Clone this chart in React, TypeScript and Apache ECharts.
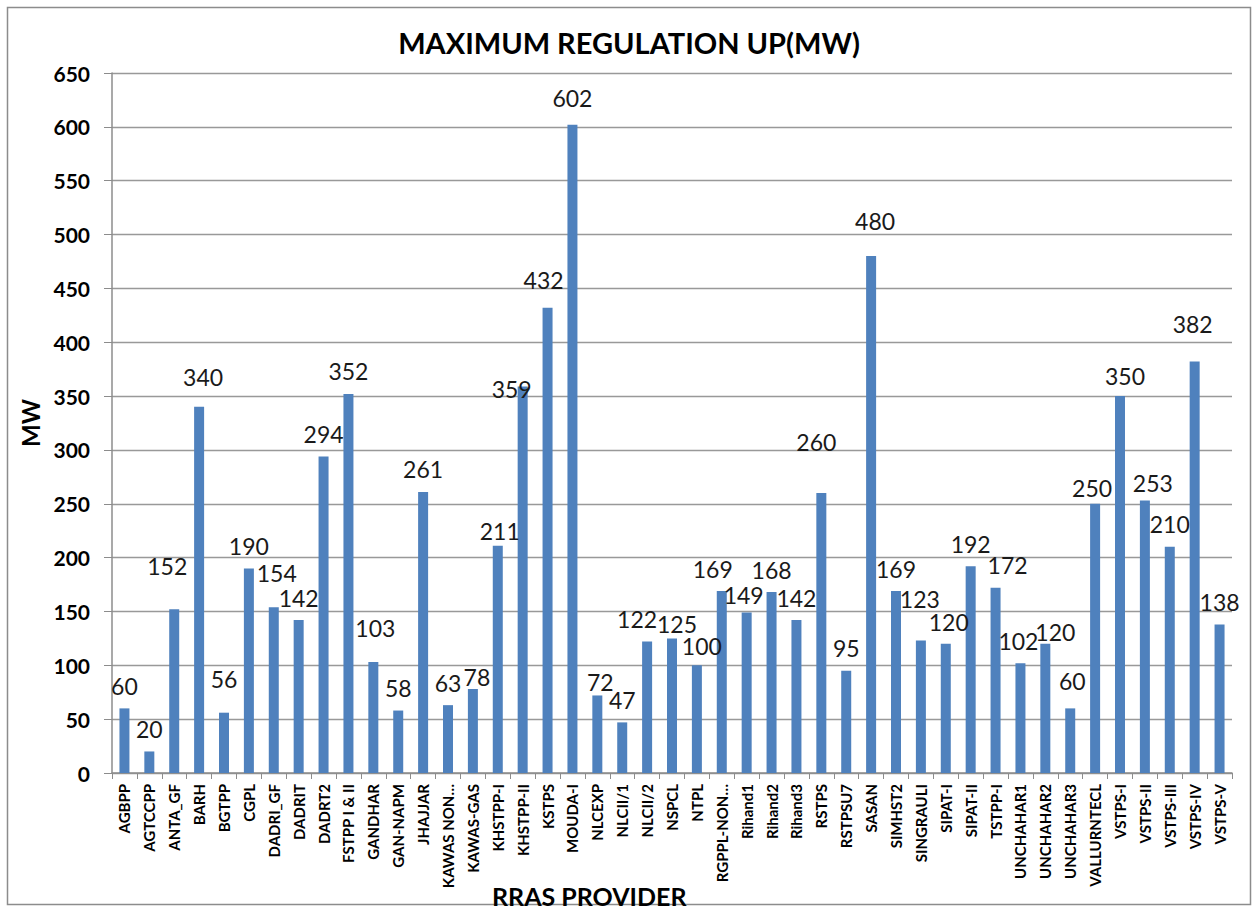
import React, { useEffect, useRef } from "react";
import * as echarts from "echarts";

const categories = [
  "AGBPP", "AGTCCPP", "ANTA_GF", "BARH", "BGTPP", "CGPL", "DADRI_GF", "DADRIT", "DADRT2",
  "FSTPP I & II", "GANDHAR", "GAN-NAPM", "JHAJJAR", "KAWAS NON…", "KAWAS-GAS", "KHSTPP-I",
  "KHSTPP-II", "KSTPS", "MOUDA-I", "NLCEXP", "NLCII/1", "NLCII/2", "NSPCL", "NTPL",
  "RGPPL-NON…", "Rihand1", "Rihand2", "Rihand3", "RSTPS", "RSTPSU7", "SASAN", "SIMHST2",
  "SINGRAULI", "SIPAT-I", "SIPAT-II", "TSTPP-I", "UNCHAHAR1", "UNCHAHAR2", "UNCHAHAR3",
  "VALLURNTECL", "VSTPS-I", "VSTPS-II", "VSTPS-III", "VSTPS-IV", "VSTPS-V",
];

const values = [
  60, 20, 152, 340, 56, 190, 154, 142, 294, 352, 103, 58, 261, 63, 78, 211, 359, 432, 602,
  72, 47, 122, 125, 100, 169, 149, 168, 142, 260, 95, 480, 169, 123, 120, 192, 172, 102,
  120, 60, 250, 350, 253, 210, 382, 138,
];

const title = "MAXIMUM REGULATION UP(MW)";
const xName = "RRAS PROVIDER";
const yName = "MW";

// Style only: hand-placed data label nudges [dx, dy] as seen in the reference
const labelNudge: Record<string, [number, number]> = {
  "ANTA_GF": [-7, -21],
  "BARH": [4, -7],
  "BGTPP": [0, -11],
  "DADRI_GF": [3, -12],
  "GANDHAR": [2, -12],
  "KAWAS-GAS": [4, 10],
  "KHSTPP-I": [2, 8],
  "KHSTPP-II": [-11, 25],
  "KSTPS": [-4, -5],
  "MOUDA-I": [0, -4],
  "NLCEXP": [3, 9],
  "NLCII/2": [-10, 0],
  "NSPCL": [5, 8],
  "NTPL": [5, 3],
  "RGPPL-NON…": [-9, 0],
  "Rihand1": [-3, 5],
  "RSTPS": [-5, -29],
  "SASAN": [4, -13],
  "SINGRAULI": [-1, -19],
  "SIPAT-I": [3, 1],
  "TSTPP-I": [12, 0],
  "UNCHAHAR1": [-2, 0],
  "UNCHAHAR2": [10, 11],
  "UNCHAHAR3": [2, -5],
  "VALLURNTECL": [-3, 7],
  "VSTPS-I": [5, 2],
  "VSTPS-II": [8, 5],
  "VSTPS-IV": [-2, -15],
};

const FONT = "Lato, 'Open Sans', sans-serif";

export default function App() {
  const ref = useRef<HTMLDivElement>(null);

  useEffect(() => {
    if (!ref.current) return;
    const chart = echarts.init(ref.current, null, { renderer: "svg" });
    const seriesData = values.map((v, i) => {
      const nudge = labelNudge[categories[i]];
      return nudge ? { value: v, label: { offset: nudge } } : { value: v };
    });
    chart.setOption({
      animation: false,
      backgroundColor: "#ffffff",
      textStyle: { fontFamily: FONT },
      title: {
        text: title,
        left: "center",
        top: 23,
        textStyle: { fontFamily: FONT, fontSize: 29, fontWeight: "bold", color: "#000" },
      },
      graphic: [
        {
          type: "rect",
          shape: { x: 7.5, y: 7.5, width: 1243, height: 897 },
          style: { fill: "none", stroke: "#8c8c8c", lineWidth: 1.5 },
          silent: true,
        },
        {
          type: "text",
          left: 492,
          top: 883,
          silent: true,
          style: {
            text: xName,
            fill: "#000",
            font: "bold 25px Lato, 'Open Sans', sans-serif",
          },
        },
      ],
      grid: {
        left: 112,
        right: 26,
        top: 73,
        bottom: 138,
        containLabel: false,
        outerBoundsMode: "none",
      },
      xAxis: {
        type: "category",
        data: categories,
        axisLine: { lineStyle: { color: "#8c8c8c", width: 1.5 } },
        axisTick: { show: true, alignWithLabel: false, length: 6, lineStyle: { color: "#8c8c8c" } },
        axisLabel: {
          interval: 0,
          rotate: 90,
          fontSize: 15,
          fontWeight: "bold",
          color: "#000",
          fontFamily: FONT,
          margin: 11,
        },
      },
      yAxis: {
        type: "value",
        min: 0,
        max: 650,
        interval: 50,
        name: yName,
        nameLocation: "middle",
        nameGap: 67,
        nameRotate: 90,
        nameTextStyle: { fontFamily: FONT, fontSize: 24, fontWeight: "bold", color: "#000" },
        axisLine: { show: true, lineStyle: { color: "#8c8c8c", width: 1.5 } },
        axisTick: { show: true, length: 8, lineStyle: { color: "#8c8c8c" } },
        axisLabel: { fontSize: 21, fontWeight: "bold", color: "#000", fontFamily: FONT, margin: 22 },
        splitLine: { show: true, lineStyle: { color: "#999999", width: 1.3 } },
      },
      series: [
        {
          type: "bar",
          data: seriesData,
          barWidth: 10,
          itemStyle: { color: "#4f81bd" },
          label: {
            show: true,
            position: "top",
            distance: 11,
            fontSize: 23,
            color: "#1a1a1a",
            fontFamily: FONT,
          },
        },
      ],
    });
    return () => chart.dispose();
  }, []);

  return (
    <div
      ref={ref}
      style={{ position: "absolute", left: 0, top: 0, width: 1258, height: 911 }}
    />
  );
}
